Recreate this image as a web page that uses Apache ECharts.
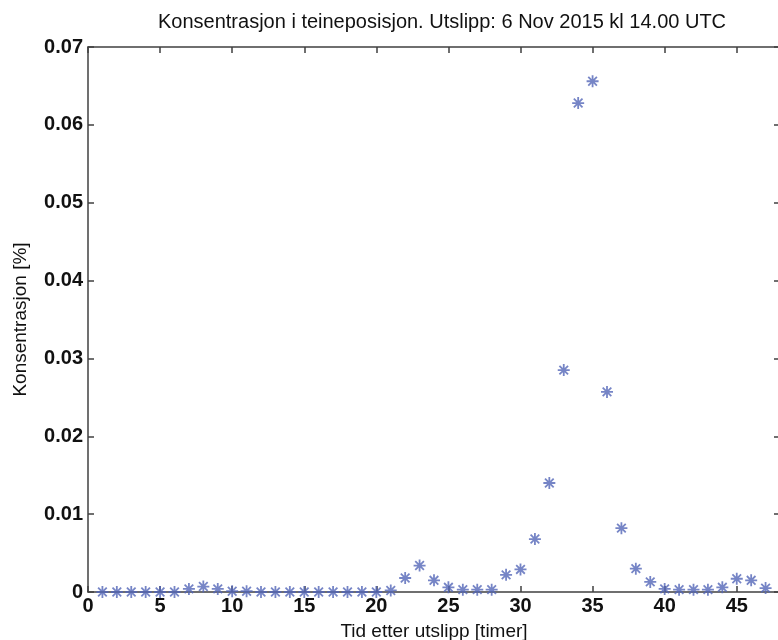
<!DOCTYPE html>
<html>
<head>
<meta charset="utf-8">
<script src="https://cdn.jsdelivr.net/npm/echarts@6/dist/echarts.min.js"></script>
<style>
html,body{margin:0;padding:0;background:#fff;}
#c{width:778px;height:640px;}
</style>
</head>
<body>
<div id="c"></div>
<script>
const titleText = 'Konsentrasjon i teineposisjon. Utslipp: 6 Nov 2015 kl 14.00 UTC';
const xLabel = 'Tid etter utslipp [timer]';
const yLabel = 'Konsentrasjon [%]';
const hours = [1,2,3,4,5,6,7,8,9,10,11,12,13,14,15,16,17,18,19,20,21,22,23,24,25,26,27,28,29,30,31,32,33,34,35,36,37,38,39,40,41,42,43,44,45,46,47];
const concentration = [
  0,0,0,0,0,0,0.0004,0.0007,0.0004,0.0001,
  0.0001,0,0,0,0,0,0,0,0,0,
  0.0002,0.0018,0.0034,0.0015,0.0006,0.0003,0.0003,0.0003,0.0022,0.0029,
  0.0068,0.0140,0.0285,0.0628,0.0656,0.0257,0.0082,0.0030,0.0013,0.0004,
  0.0003,0.0003,0.0003,0.0006,0.0017,0.0015,0.0005
];
const xTicks = [0,5,10,15,20,25,30,35,40,45];
const yTicks = [0,0.01,0.02,0.03,0.04,0.05,0.06,0.07];

const font = 'Liberation Sans, Arial, Helvetica, sans-serif';
const axisCol = '#404040';
const chart = echarts.init(document.getElementById('c'), null, {renderer:'canvas'});
const pts = hours.map((h,i)=>[h, concentration[i]]);
const star = 'path://M0,-5L0,5M-5,0L5,0M-3.6,-3.6L3.6,3.6M-3.6,3.6L3.6,-3.6';
function common(){
  return {
    axisLine:{show:true,onZero:false,lineStyle:{color:axisCol,width:1.5}},
    axisTick:{show:true,inside:true,length:6,lineStyle:{color:axisCol,width:1.5}},
    splitLine:{show:false}
  };
}
chart.setOption({
  animation:false,
  title:{text:titleText,left:437,top:7,textAlign:'center',
    textStyle:{fontFamily:font,fontSize:20,fontWeight:'normal',color:'#111'}},
  grid:{left:88,right:-2,top:47,bottom:48,containLabel:false,outerBoundsMode:'none'},
  xAxis:[
    Object.assign({type:'value',min:0,max:48,interval:5,position:'bottom',
      name:xLabel,nameLocation:'middle',nameGap:30,
      nameTextStyle:{fontFamily:font,fontSize:19,color:'#111'},
      axisLabel:{fontFamily:font,fontSize:20,fontWeight:'bold',color:'#111',margin:4,showMaxLabel:false,
        formatter:v=>xTicks.includes(v)?String(v):''}},common()),
    Object.assign({type:'value',min:0,max:48,interval:5,position:'top',axisLabel:{show:false}},common())
  ],
  yAxis:[
    Object.assign({type:'value',min:0,max:0.07,interval:0.01,position:'left',
      name:yLabel,nameLocation:'middle',nameGap:58,
      nameTextStyle:{fontFamily:font,fontSize:19,color:'#111'},
      axisLabel:{fontFamily:font,fontSize:20,fontWeight:'bold',color:'#111',margin:5,
        formatter:v=>{const t=yTicks.find(y=>Math.abs(y-v)<1e-9);return t===undefined?'':(t===0?'0':t.toFixed(2));}}},common()),
    Object.assign({type:'value',min:0,max:0.07,interval:0.01,position:'right',axisLabel:{show:false}},common())
  ],
  series:[{
    type:'scatter',
    data:pts,
    symbol:star,
    symbolSize:12,
    itemStyle:{color:'rgba(0,0,0,0)',borderColor:'#5466b8',borderWidth:1.8}
  }]
});
</script>
</body>
</html>
